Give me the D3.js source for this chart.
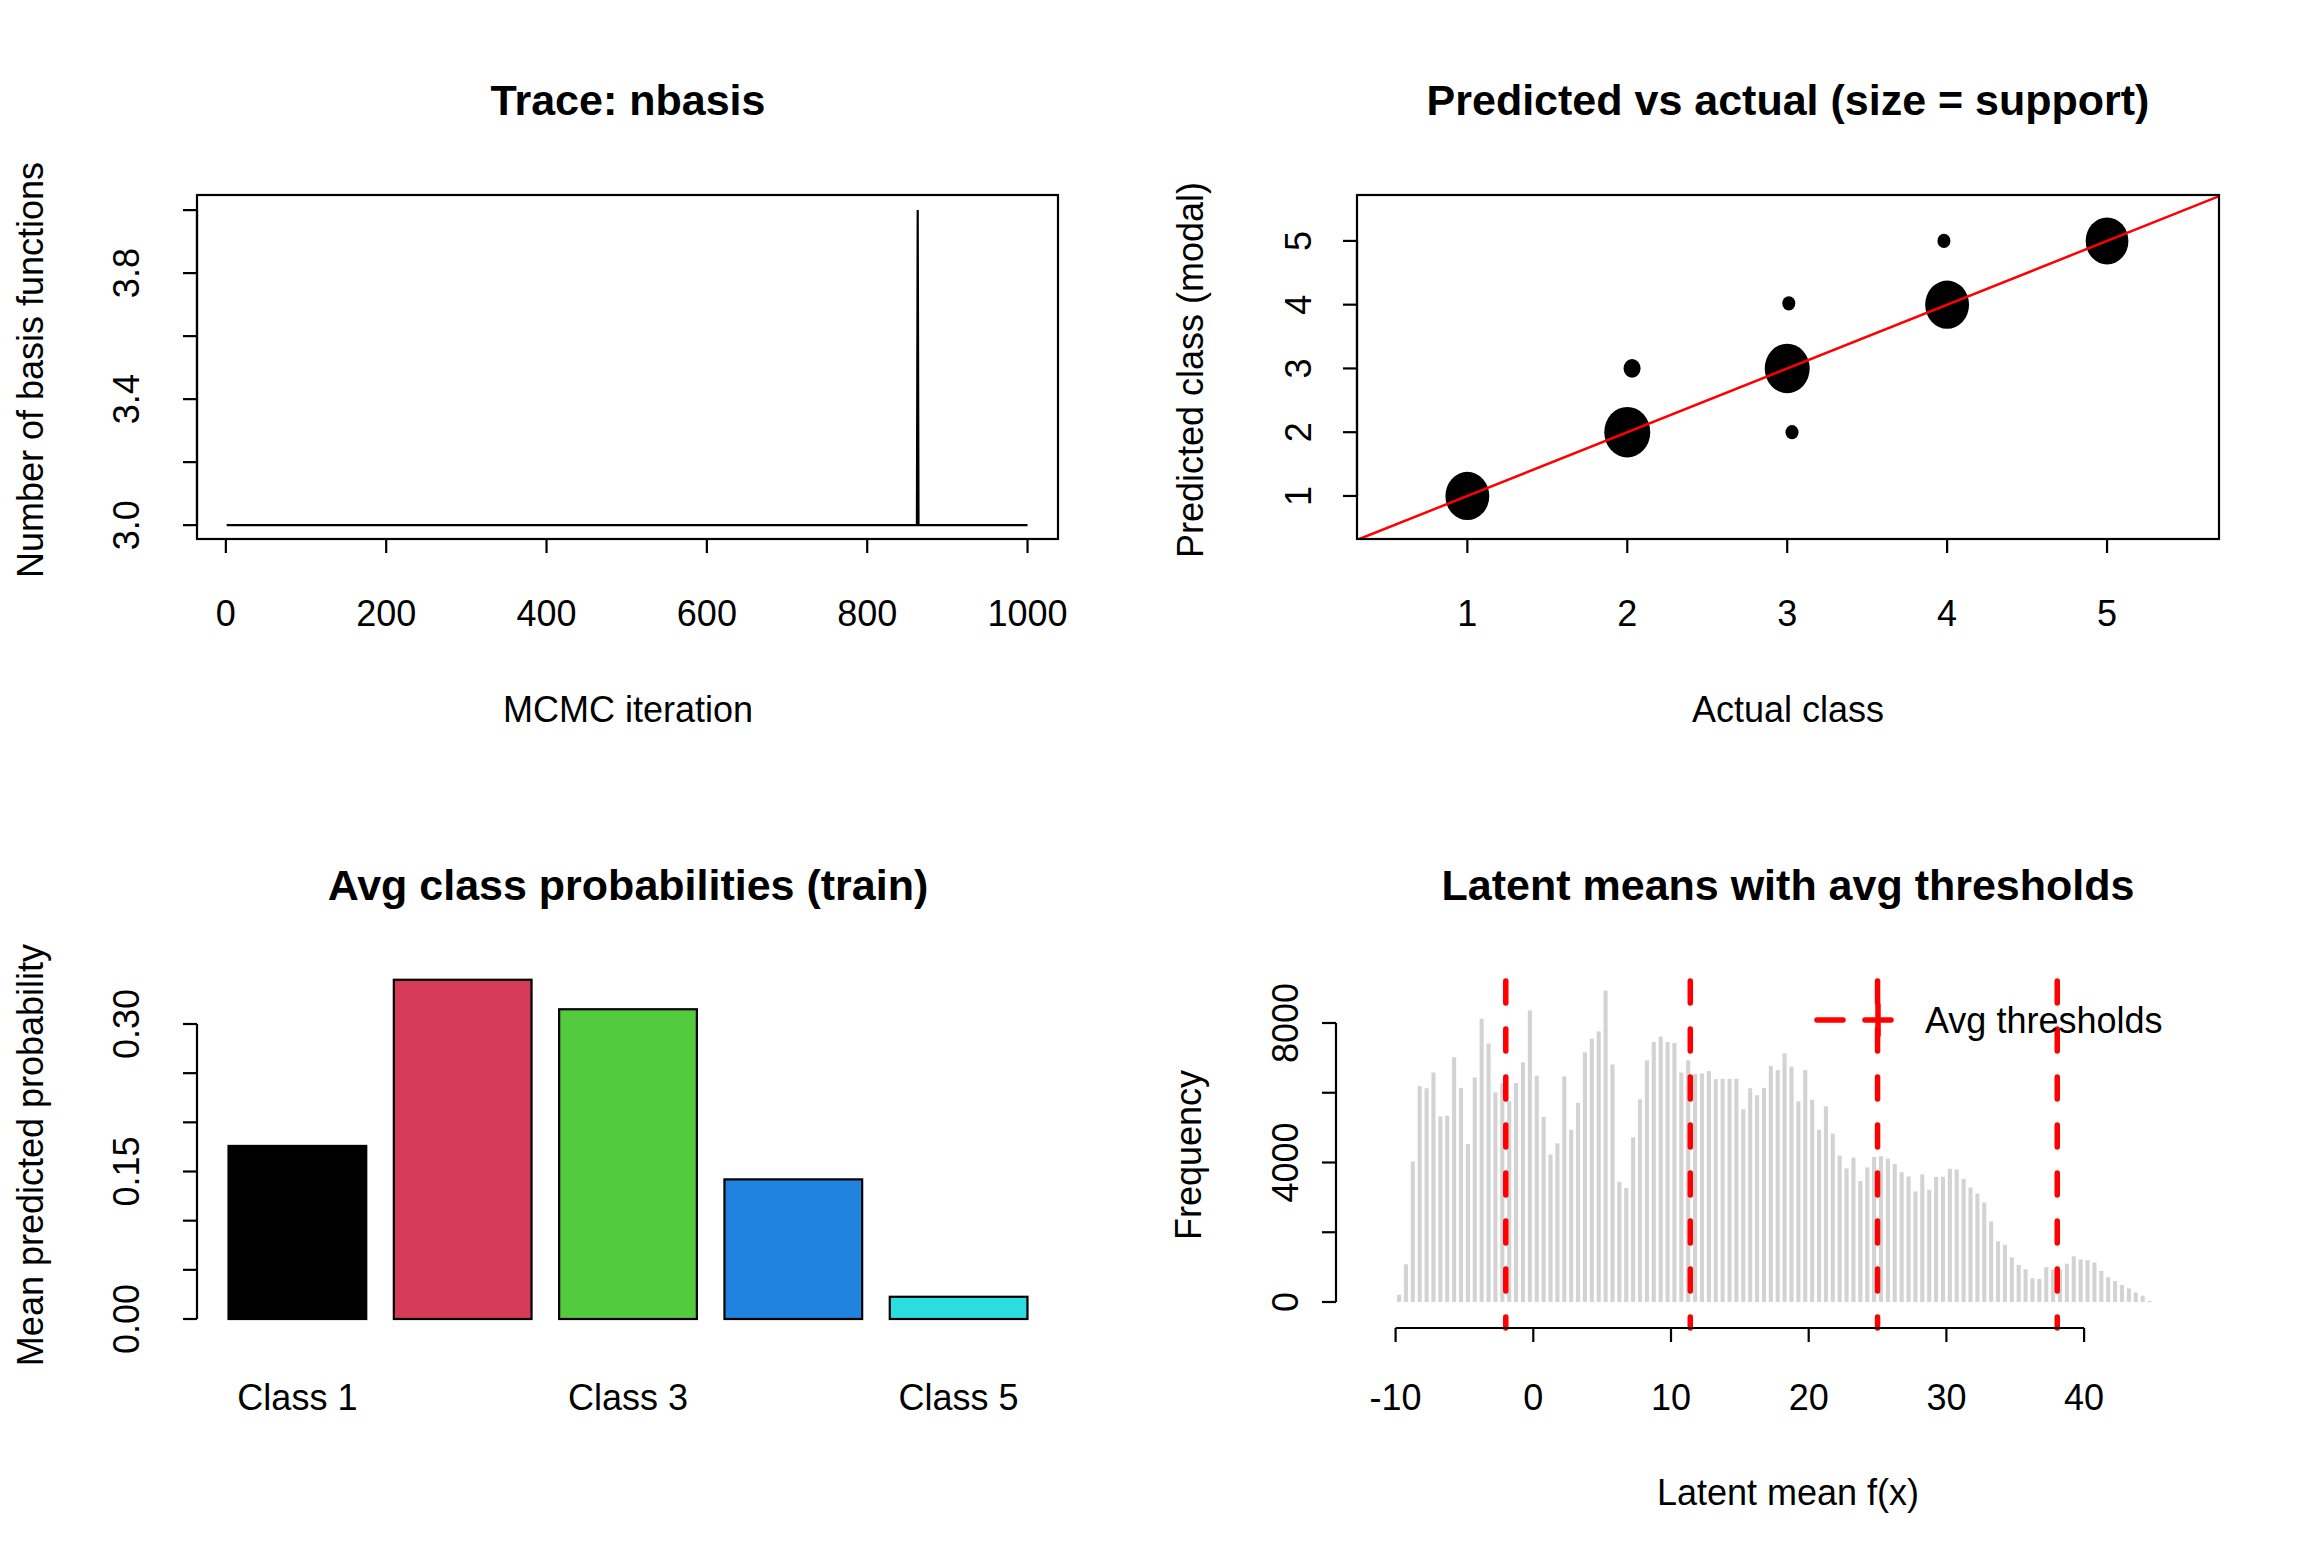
<!DOCTYPE html>
<html>
<head>
<meta charset="utf-8">
<script src="https://cdn.jsdelivr.net/npm/d3@7"></script>
<style>
  body { margin: 0; background: #fff; }
  text { font-family: "Liberation Sans", Arial, sans-serif; fill: #000; }
</style>
</head>
<body>
<svg id="foo" width="2307" height="1560"></svg>
<script>
// ---- data ----
var traceRuns = [
  { from: 1, to: 862, value: 3 },
  { from: 863, to: 863, value: 4 },
  { from: 864, to: 1000, value: 3 }
];

var actualClass = [1, 2, 2.03, 3, 3.01, 3.03, 4, 3.98, 5];
var predictedClass = [1, 2, 3, 3, 4.02, 2, 4, 5, 5];
var support = [200, 220, 30, 210, 8, 9, 200, 8, 190];

var classLabels = ["Class 1", "Class 2", "Class 3", "Class 4", "Class 5"];
var classProbs = [0.176, 0.345, 0.315, 0.142, 0.0226];
var classColors = ["#000000", "#D53A58", "#54CB3F", "#2083E0", "#2CDDE0"];

var histStart = -10, histWidth = 0.5;
var histCounts = [
  210, 1080, 4030, 6190, 6130, 6580, 5320, 5340, 7020, 6140,
  4530, 6440, 8120, 7410, 6010, 6270, 5760, 6280, 6870, 8360,
  6490, 5310, 4230, 4550, 6470, 4940, 5710, 7160, 7550, 7760,
  8930, 6810, 3450, 3270, 4720, 5810, 6930, 7460, 7610, 7450,
  7430, 6580, 6930, 6540, 6550, 6620, 6390, 6400, 6400, 6400,
  5530, 6130, 5930, 6140, 6770, 6650, 7130, 6750, 5750, 6650,
  5800, 4940, 5610, 4830, 4200, 3830, 4140, 3470, 3860, 4160,
  4180, 4110, 3960, 3720, 3600, 3170, 3660, 3220, 3590, 3590,
  3820, 3800, 3530, 3280, 3110, 2850, 2310, 1740, 1640, 1280,
  1060, 940, 680, 660, 1000, 930, 930, 1100, 1310, 1220,
  1200, 1130, 890, 710, 600, 490, 390, 270, 180, 30
];
var thresholds = [-2.0, 11.4, 25.0, 38.05];

var svg = d3.select('#foo');
var LW = 2.2;

function title(x, y, s) {
  svg.append("text").attr("x", x).attr("y", y).attr("text-anchor", "middle")
    .attr("dominant-baseline", "central")
    .style("font-size", "43px").style("font-weight", "bold").text(s);
}
function label(x, y, s, rot) {
  svg.append("text").attr("transform", "translate(" + x + "," + y + ")" + (rot ? " rotate(-90)" : ""))
    .attr("text-anchor", "middle").attr("dominant-baseline", "central")
    .style("font-size", "36px").text(s);
}
function xAxis(x, ticks, y, labelY, fmt) {
  svg.append("line").attr("x1", x(ticks[0])).attr("x2", x(ticks[ticks.length - 1]))
    .attr("y1", y).attr("y2", y).attr("stroke", "#000").attr("stroke-width", LW);
  ticks.forEach(function (t) {
    svg.append("line").attr("x1", x(t)).attr("x2", x(t)).attr("y1", y).attr("y2", y + 14)
      .attr("stroke", "#000").attr("stroke-width", LW);
    label(x(t), labelY, fmt ? fmt(t) : t);
  });
}
function yAxis(y, ticks, labelled, x, labelX, fmt) {
  svg.append("line").attr("x1", x).attr("x2", x)
    .attr("y1", y(ticks[0])).attr("y2", y(ticks[ticks.length - 1]))
    .attr("stroke", "#000").attr("stroke-width", LW);
  ticks.forEach(function (t) {
    svg.append("line").attr("x1", x).attr("x2", x - 14).attr("y1", y(t)).attr("y2", y(t))
      .attr("stroke", "#000").attr("stroke-width", LW);
  });
  labelled.forEach(function (t) { label(labelX, y(t), fmt(t), true); });
}
function box(x0, y0, x1, y1) {
  svg.append("rect").attr("x", x0).attr("y", y0).attr("width", x1 - x0).attr("height", y1 - y0)
    .attr("fill", "none").attr("stroke", "#000").attr("stroke-width", LW);
}

// ---- panel 1: trace ----
var x1 = d3.scaleLinear().domain([-36, 1038]).range([197, 1058]);
var y1 = d3.scaleLinear().domain([2.956, 4.048]).range([539, 195]);
var tracePts = [];
traceRuns.forEach(function (r) {
  for (var i = r.from; i <= r.to; i++) tracePts.push([i, r.value]);
});
svg.append("path").datum(tracePts)
  .attr("d", d3.line().x(function (d) { return x1(d[0]); }).y(function (d) { return y1(d[1]); }))
  .attr("fill", "none").attr("stroke", "#000").attr("stroke-width", 2.2);
box(197, 195, 1058, 539);
xAxis(x1, [0, 200, 400, 600, 800, 1000], 539, 613);
yAxis(y1, [3.0, 3.2, 3.4, 3.6, 3.8, 4.0], [3.0, 3.4, 3.8], 197, 126, d3.format(".1f"));
title(628, 100, "Trace: nbasis");
label(628, 709, "MCMC iteration");
label(30, 370, "Number of basis functions", true);

// ---- panel 2: predicted vs actual ----
var x2 = d3.scaleLinear().domain([0.31, 5.70]).range([1357, 2219]);
var y2 = d3.scaleLinear().domain([0.325, 5.72]).range([539, 195]);
var r2 = d3.scaleSqrt().domain([0, 220]).range([0, 23]);
var clip = svg.append("clipPath").attr("id", "c2").append("rect")
  .attr("x", 1357).attr("y", 195).attr("width", 862).attr("height", 344);
actualClass.forEach(function (a, i) {
  var r = Math.max(6.5, r2(support[i]));
  svg.append("ellipse").attr("cx", x2(a)).attr("cy", y2(predictedClass[i]))
    .attr("rx", r).attr("ry", r * 1.1).attr("fill", "#000");
});
svg.append("line").attr("clip-path", "url(#c2)")
  .attr("x1", x2(0)).attr("y1", y2(0)).attr("x2", x2(6)).attr("y2", y2(6))
  .attr("stroke", "#ff0000").attr("stroke-width", 2.5);
box(1357, 195, 2219, 539);
xAxis(x2, [1, 2, 3, 4, 5], 539, 613);
yAxis(y2, [1, 2, 3, 4, 5], [1, 2, 3, 4, 5], 1357, 1298, d3.format("d"));
title(1788, 100, "Predicted vs actual (size = support)");
label(1788, 709, "Actual class");
label(1190, 370, "Predicted class (modal)", true);

// ---- panel 3: avg class probabilities ----
var x3 = d3.scaleBand().domain(classLabels).range([212, 1044]).paddingInner(0.167).paddingOuter(0.1);
var y3 = d3.scaleLinear().domain([0, 0.30]).range([1319, 1024]);
classLabels.forEach(function (c, i) {
  svg.append("rect").attr("x", x3(c)).attr("y", y3(classProbs[i]))
    .attr("width", x3.bandwidth()).attr("height", y3(0) - y3(classProbs[i]))
    .attr("fill", classColors[i]).attr("stroke", "#000").attr("stroke-width", LW);
});
[0, 2, 4].forEach(function (i) {
  label(x3(classLabels[i]) + x3.bandwidth() / 2, 1397, classLabels[i]);
});
yAxis(y3, [0, 0.05, 0.10, 0.15, 0.20, 0.25, 0.30], [0, 0.15, 0.30], 197, 126, d3.format(".2f"));
title(628, 885, "Avg class probabilities (train)");
label(30, 1155, "Mean predicted probability", true);

// ---- panel 4: latent means histogram ----
var x4 = d3.scaleLinear().domain([0, 10]).range([1533.3, 1671]);
var y4 = d3.scaleLinear().domain([0, 8000]).range([1302, 1023]);
var bw = x4(histWidth) - x4(0);
histCounts.forEach(function (c, i) {
  var lo = histStart + i * histWidth;
  svg.append("rect").attr("x", x4(lo) + 1.4).attr("y", y4(c))
    .attr("width", bw - 2.8).attr("height", y4(0) - y4(c)).attr("fill", "#D3D3D3");
});
thresholds.forEach(function (t) {
  svg.append("line").attr("x1", x4(t)).attr("x2", x4(t)).attr("y1", 981).attr("y2", 1328)
    .attr("stroke", "#ff0000").attr("stroke-width", 5.5)
    .attr("stroke-dasharray", "22,26").attr("stroke-linecap", "round");
});
xAxis(x4, [-10, 0, 10, 20, 30, 40], 1328, 1397);
yAxis(y4, [0, 2000, 4000, 6000, 8000], [0, 4000, 8000], 1336, 1285, d3.format("d"));
title(1788, 885, "Latent means with avg thresholds");
label(1788, 1492, "Latent mean f(x)");
label(1188, 1155, "Frequency", true);

// legend
svg.append("line").attr("x1", 1817).attr("x2", 1900).attr("y1", 1020).attr("y2", 1020)
  .attr("stroke", "#ff0000").attr("stroke-width", 5.5)
  .attr("stroke-dasharray", "26,22").attr("stroke-linecap", "round");
svg.append("line").attr("x1", 1878).attr("x2", 1878).attr("y1", 1005).attr("y2", 1035)
  .attr("stroke", "#ff0000").attr("stroke-width", 5.5).attr("stroke-linecap", "round");
svg.append("text").attr("x", 1925).attr("y", 1020).attr("dominant-baseline", "central")
  .style("font-size", "36px").text("Avg thresholds");
</script>
</body>
</html>
